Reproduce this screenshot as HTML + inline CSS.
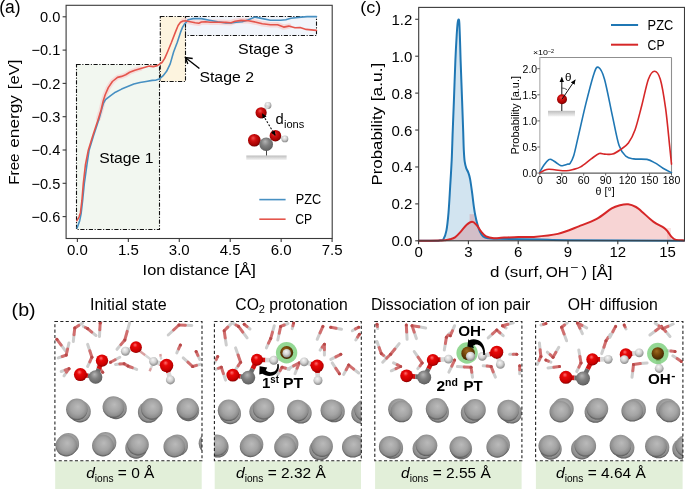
<!DOCTYPE html>
<html><head><meta charset="utf-8"><style>html,body{margin:0;padding:0;background:#fff;}svg{display:block;will-change:transform;}text{font-family:"Liberation Sans", sans-serif;}</style></head><body>
<svg width="685" height="489" viewBox="0 0 685 489">
<rect width="685" height="489" fill="#fff"/>
<defs>
<radialGradient id="gO" cx="0.45" cy="0.4" r="0.65" fx="0.42" fy="0.3">
 <stop offset="0" stop-color="#ff7070"/><stop offset="0.3" stop-color="#e80808"/><stop offset="0.75" stop-color="#c80000"/><stop offset="1" stop-color="#6e0000"/>
</radialGradient>
<radialGradient id="gO2" cx="0.45" cy="0.42" r="0.62" fx="0.4" fy="0.32">
 <stop offset="0" stop-color="#f05050"/><stop offset="0.35" stop-color="#d01010"/><stop offset="0.8" stop-color="#a00000"/><stop offset="1" stop-color="#500000"/>
</radialGradient>
<radialGradient id="gC" cx="0.45" cy="0.4" r="0.65" fx="0.42" fy="0.3">
 <stop offset="0" stop-color="#b4b4b4"/><stop offset="0.45" stop-color="#808080"/><stop offset="0.85" stop-color="#666"/><stop offset="1" stop-color="#3c3c3c"/>
</radialGradient>
<radialGradient id="gH" cx="0.45" cy="0.4" r="0.65" fx="0.42" fy="0.3">
 <stop offset="0" stop-color="#f6f6f6"/><stop offset="0.5" stop-color="#d2d2d2"/><stop offset="1" stop-color="#7e7e7e"/>
</radialGradient>
<radialGradient id="gPt" cx="0.5" cy="0.45" r="0.56" fx="0.55" fy="0.38">
 <stop offset="0" stop-color="#bababa"/><stop offset="0.55" stop-color="#a4a4a4"/><stop offset="0.84" stop-color="#8c8c8c"/><stop offset="1" stop-color="#4e4e4e"/>
</radialGradient>
<radialGradient id="gBr" cx="0.45" cy="0.4" r="0.65" fx="0.4" fy="0.3">
 <stop offset="0" stop-color="#a06a20"/><stop offset="0.45" stop-color="#74460a"/><stop offset="1" stop-color="#3a2200"/>
</radialGradient>
<linearGradient id="gSurf" x1="0" y1="0" x2="0" y2="1">
 <stop offset="0" stop-color="#bdbdbd"/><stop offset="1" stop-color="#f4f4f4"/>
</linearGradient>
<marker id="ah" viewBox="0 0 10 10" refX="9" refY="5" markerWidth="6" markerHeight="6" orient="auto-start-reverse" markerUnits="userSpaceOnUse">
 <path d="M0,0 L10,5 L0,10 z" fill="#000"/>
</marker>
<marker id="ah2" viewBox="0 0 10 10" refX="9" refY="5" markerWidth="5" markerHeight="5" orient="auto-start-reverse" markerUnits="userSpaceOnUse">
 <path d="M0,0.5 L10,5 L0,9.5 z" fill="#000"/>
</marker>
</defs>
<rect x="76.5" y="64.5" width="83" height="165" fill="#f2f7f0" stroke="#111" stroke-width="1.1" stroke-dasharray="4.2,1.6,1.1,1.6"/>
<rect x="160.3" y="16.5" width="25.2" height="65" fill="#fdf4df" stroke="#111" stroke-width="1.1" stroke-dasharray="4.2,1.6,1.1,1.6"/>
<rect x="185.5" y="16.5" width="131" height="19" fill="#f1f5fb" stroke="#111" stroke-width="1.1" stroke-dasharray="4.2,1.6,1.1,1.6"/>
<polyline points="98.40,118.70 101.10,110.00 103.20,100.90 105.20,94.70 108.30,87.60 112.40,81.50 117.50,77.40 121.60,76.40 125.70,74.80 129.70,72.30 134.90,70.20 140.00,68.70" fill="none" stroke="#f6d2d2" stroke-width="5.0" stroke-linejoin="round" stroke-linecap="round" opacity="0.7"/>
<polyline points="183.00,21.00 185.40,20.80 190.10,21.70 195.20,22.70 198.80,23.20 201.40,22.00 205.40,21.70 210.50,22.20 218.70,22.20 225.90,22.40 231.00,22.70 235.10,21.20 241.20,20.40 248.40,20.70 256.10,22.20 262.30,23.80 270.40,24.80 277.60,24.80 283.70,27.10 288.80,26.10" fill="none" stroke="#f6d2d2" stroke-width="5.5" stroke-linejoin="round" stroke-linecap="round" opacity="0.8"/>
<polyline points="77.10,227.90 79.70,220.70 81.10,213.60 82.60,200.70 84.30,183.60 86.90,165.00 89.10,150.20 93.40,135.90 99.10,118.70 102.00,108.00 103.50,103.00 105.50,99.60 110.30,95.80 115.40,92.20 121.60,89.10 127.70,86.60 133.80,84.00 140.00,82.50 146.10,81.50 152.20,80.40 155.50,80.20 159.20,79.10 162.90,75.90 166.60,71.30 170.20,63.90 173.60,52.00 177.30,42.30 180.50,32.40 182.60,27.10 184.60,23.90 186.30,22.20 188.10,19.70 193.20,18.60 201.40,18.60 209.50,20.20 217.70,21.70 225.90,23.00 231.00,23.00 236.10,22.20 242.20,21.70 248.40,19.70 255.10,17.10 260.20,18.10 270.40,20.20 280.70,20.20 285.80,19.70 290.90,18.30 301.10,17.10 307.20,16.60 316.40,16.60" fill="none" stroke="#4790c2" stroke-width="1.6" stroke-linejoin="round" stroke-linecap="round"/>
<polyline points="76.90,220.70 79.00,217.10 80.40,212.90 81.90,200.70 83.30,183.60 85.40,165.00 88.30,150.20 92.70,135.90 98.40,118.70 101.10,110.00 103.20,100.90 105.20,94.70 108.30,87.60 112.40,81.50 117.50,77.40 121.60,76.40 125.70,74.80 129.70,72.30 134.90,70.20 140.00,68.70 145.10,67.20 149.20,66.10 153.30,66.60 157.30,65.60 159.20,64.40 162.00,62.50 164.70,58.40 167.50,52.00 171.50,42.30 175.60,31.60 178.10,25.50 180.50,22.20 183.00,21.00 185.40,20.80 190.10,21.70 195.20,22.70 198.80,23.20 201.40,22.00 205.40,21.70 210.50,22.20 218.70,22.20 225.90,22.40 231.00,22.70 235.10,21.20 241.20,20.40 248.40,20.70 256.10,22.20 262.30,23.80 270.40,24.80 277.60,24.80 283.70,27.10 288.80,26.10 295.00,27.80 300.10,27.50 306.20,29.40 311.30,29.90 316.40,30.40" fill="none" stroke="#e4554c" stroke-width="1.6" stroke-linejoin="round" stroke-linecap="round"/>
<rect x="66.1" y="5.3" width="266.10" height="233.20" fill="none" stroke="#3a3a3a" stroke-width="1.1"/>
<line x1="62.60" y1="16.80" x2="66.10" y2="16.80" stroke="#3a3a3a" stroke-width="1.1"/>
<text x="60.30" y="22.10" font-size="14.6" text-anchor="end">0.0</text>
<line x1="62.60" y1="50.10" x2="66.10" y2="50.10" stroke="#3a3a3a" stroke-width="1.1"/>
<text x="60.30" y="55.40" font-size="14.6" text-anchor="end">−0.1</text>
<line x1="62.60" y1="83.40" x2="66.10" y2="83.40" stroke="#3a3a3a" stroke-width="1.1"/>
<text x="60.30" y="88.70" font-size="14.6" text-anchor="end">−0.2</text>
<line x1="62.60" y1="116.70" x2="66.10" y2="116.70" stroke="#3a3a3a" stroke-width="1.1"/>
<text x="60.30" y="122.00" font-size="14.6" text-anchor="end">−0.3</text>
<line x1="62.60" y1="150.00" x2="66.10" y2="150.00" stroke="#3a3a3a" stroke-width="1.1"/>
<text x="60.30" y="155.30" font-size="14.6" text-anchor="end">−0.4</text>
<line x1="62.60" y1="183.30" x2="66.10" y2="183.30" stroke="#3a3a3a" stroke-width="1.1"/>
<text x="60.30" y="188.60" font-size="14.6" text-anchor="end">−0.5</text>
<line x1="62.60" y1="216.60" x2="66.10" y2="216.60" stroke="#3a3a3a" stroke-width="1.1"/>
<text x="60.30" y="221.90" font-size="14.6" text-anchor="end">−0.6</text>
<line x1="77.40" y1="238.50" x2="77.40" y2="242.00" stroke="#3a3a3a" stroke-width="1.1"/>
<text x="77.40" y="255.40" font-size="15" text-anchor="middle">0.0</text>
<line x1="128.34" y1="238.50" x2="128.34" y2="242.00" stroke="#3a3a3a" stroke-width="1.1"/>
<text x="128.34" y="255.40" font-size="15" text-anchor="middle">1.5</text>
<line x1="179.28" y1="238.50" x2="179.28" y2="242.00" stroke="#3a3a3a" stroke-width="1.1"/>
<text x="179.28" y="255.40" font-size="15" text-anchor="middle">3.0</text>
<line x1="230.22" y1="238.50" x2="230.22" y2="242.00" stroke="#3a3a3a" stroke-width="1.1"/>
<text x="230.22" y="255.40" font-size="15" text-anchor="middle">4.5</text>
<line x1="281.16" y1="238.50" x2="281.16" y2="242.00" stroke="#3a3a3a" stroke-width="1.1"/>
<text x="281.16" y="255.40" font-size="15" text-anchor="middle">6.0</text>
<line x1="332.10" y1="238.50" x2="332.10" y2="242.00" stroke="#3a3a3a" stroke-width="1.1"/>
<text x="332.10" y="255.40" font-size="15" text-anchor="middle">7.5</text>
<g transform="translate(18.5,183.6) rotate(-90)">
<text x="-1.20" y="0.00" font-size="15" textLength="31.40" lengthAdjust="spacingAndGlyphs">Free</text>
<text x="35.80" y="0.00" font-size="15" textLength="52.80" lengthAdjust="spacingAndGlyphs">energy</text>
<text x="94.40" y="0.00" font-size="15" textLength="29.60" lengthAdjust="spacingAndGlyphs">[eV]</text>
</g>
<text x="142.60" y="274.80" font-size="15" textLength="22.80" lengthAdjust="spacingAndGlyphs">Ion</text>
<text x="169.50" y="274.80" font-size="15" textLength="60.00" lengthAdjust="spacingAndGlyphs">distance</text>
<text x="234.20" y="274.80" font-size="15" textLength="21.80" lengthAdjust="spacingAndGlyphs">[Å]</text>
<text x="-0.80" y="12.80" font-size="18" textLength="21.40" lengthAdjust="spacingAndGlyphs">(a)</text>
<text x="99.20" y="163.30" font-size="15" textLength="54.20" lengthAdjust="spacingAndGlyphs">Stage 1</text>
<text x="199.40" y="82.30" font-size="15" textLength="54.60" lengthAdjust="spacingAndGlyphs">Stage 2</text>
<text x="238.10" y="53.50" font-size="15" textLength="55.20" lengthAdjust="spacingAndGlyphs">Stage 3</text>
<line x1="199.40" y1="68.50" x2="185.60" y2="57.80" stroke="#000" stroke-width="1.4"/>
<polyline points="192.7,58.5 185.4,57.6 187.8,64.0" fill="none" stroke="#000" stroke-width="1.4" stroke-linejoin="miter"/>
<line x1="259.30" y1="199.60" x2="285.60" y2="199.60" stroke="#4790c2" stroke-width="1.6"/>
<line x1="259.30" y1="219.20" x2="285.60" y2="219.20" stroke="#e4554c" stroke-width="1.6"/>
<text x="295.70" y="204.20" font-size="14" textLength="25.40" lengthAdjust="spacingAndGlyphs">PZC</text>
<text x="295.30" y="223.90" font-size="14" textLength="16.90" lengthAdjust="spacingAndGlyphs">CP</text>
<rect x="246.3" y="155.5" width="40.3" height="4.5" fill="url(#gSurf)"/>
<line x1="266.50" y1="150.00" x2="266.50" y2="155.50" stroke="#444" stroke-width="1"/>
<circle cx="254.3" cy="140.2" r="6.3" fill="url(#gO2)"/>
<line x1="275.40" y1="135.70" x2="284.90" y2="138.90" stroke="#d8d8d8" stroke-width="3"/>
<circle cx="284.9" cy="138.9" r="3.4" fill="url(#gH)"/>
<circle cx="266.2" cy="144.2" r="6.8" fill="url(#gC)"/>
<circle cx="275.4" cy="135.7" r="5.8" fill="url(#gO2)"/>
<circle cx="268" cy="105.4" r="3.4" fill="url(#gH)"/>
<line x1="261.10" y1="112.80" x2="268.00" y2="106.20" stroke="#d8d8d8" stroke-width="3"/>
<circle cx="261.1" cy="112.8" r="5.6" fill="url(#gO2)"/>
<line x1="275.20" y1="135.40" x2="262.30" y2="113.80" stroke="#111" stroke-width="1.1" stroke-dasharray="2,1.6" marker-end="url(#ah2)" marker-start="url(#ah2)"/>
<text x="275.60" y="123.60" font-size="14.5" textLength="8.20" lengthAdjust="spacingAndGlyphs">d</text>
<text x="284.00" y="127.80" font-size="11" textLength="20.30" lengthAdjust="spacingAndGlyphs">ions</text>
<path d="M418.70,240.80 C421.58,240.78 432.45,240.78 436.00,240.70 C439.55,240.62 438.77,240.53 440.00,240.30 C441.23,240.07 442.33,240.92 443.40,239.30 C444.47,237.68 445.55,235.02 446.40,230.60 C447.25,226.18 447.87,220.23 448.50,212.80 C449.13,205.37 449.67,194.80 450.20,186.00 C450.73,177.20 451.28,169.07 451.70,160.00 C452.12,150.93 452.33,141.45 452.70,131.60 C453.07,121.75 453.45,112.83 453.90,100.90 C454.35,88.97 454.93,70.98 455.40,60.00 C455.87,49.02 456.32,41.25 456.70,35.00 C457.08,28.75 457.40,25.08 457.70,22.50 C458.00,19.92 458.23,19.50 458.50,19.50 C458.77,19.50 459.05,19.08 459.30,22.50 C459.55,25.92 459.78,33.75 460.00,40.00 C460.22,46.25 460.25,49.85 460.60,60.00 C460.95,70.15 461.67,88.97 462.10,100.90 C462.53,112.83 462.92,123.42 463.20,131.60 C463.48,139.78 463.55,144.98 463.80,150.00 C464.05,155.02 464.28,158.63 464.70,161.70 C465.12,164.77 465.72,166.63 466.30,168.40 C466.88,170.17 467.57,170.52 468.20,172.30 C468.83,174.08 469.45,175.70 470.10,179.10 C470.75,182.50 471.48,188.17 472.10,192.70 C472.72,197.23 473.25,202.42 473.80,206.30 C474.35,210.18 474.82,213.08 475.40,216.00 C475.98,218.92 476.55,221.20 477.30,223.80 C478.05,226.40 478.92,229.50 479.90,231.60 C480.88,233.70 481.85,235.28 483.20,236.40 C484.55,237.52 485.53,237.90 488.00,238.30 C490.47,238.70 489.33,238.58 498.00,238.80 C506.67,239.02 528.00,239.35 540.00,239.60 C552.00,239.85 546.00,240.10 570.00,240.30 C594.00,240.50 665.00,240.72 684.00,240.80 L684,240.8 L418.7,240.8 Z" fill="#1f77b4" fill-opacity="0.2"/>
<path d="M418.70,240.80 C422.25,240.77 435.62,240.70 440.00,240.60 C444.38,240.50 443.33,240.42 445.00,240.20 C446.67,239.98 448.33,239.77 450.00,239.30 C451.67,238.83 453.20,238.68 455.00,237.40 C456.80,236.12 458.85,233.70 460.80,231.60 C462.75,229.50 464.82,226.43 466.70,224.80 C468.58,223.17 470.48,221.80 472.10,221.80 C473.72,221.80 474.88,223.17 476.40,224.80 C477.92,226.43 479.58,229.67 481.20,231.60 C482.82,233.53 484.00,235.28 486.10,236.40 C488.20,237.52 491.33,238.07 493.80,238.30 C496.27,238.53 496.80,238.03 500.90,237.80 C505.00,237.57 512.90,237.05 518.40,236.90 C523.90,236.75 527.33,237.40 533.90,236.90 C540.47,236.40 550.32,235.65 557.80,233.90 C565.28,232.15 572.32,228.90 578.80,226.40 C585.28,223.90 591.22,221.90 596.70,218.90 C602.18,215.90 607.82,210.68 611.70,208.40 C615.58,206.12 617.25,205.88 620.00,205.20 C622.75,204.52 625.53,204.00 628.20,204.30 C630.87,204.60 633.77,205.82 636.00,207.00 C638.23,208.18 638.67,208.92 641.60,211.40 C644.53,213.88 649.87,219.15 653.60,221.90 C657.33,224.65 661.60,226.22 664.00,227.90 C666.40,229.58 666.73,230.50 668.00,232.00 C669.27,233.50 670.27,235.58 671.60,236.90 C672.93,238.22 673.93,239.32 676.00,239.90 C678.07,240.48 682.67,240.32 684.00,240.40 L684,240.8 L418.7,240.8 Z" fill="#d62728" fill-opacity="0.2"/>
<rect x="469.6" y="214.2" width="4.8" height="7.8" fill="#d62728" fill-opacity="0.2"/>
<rect x="474.4" y="218.3" width="1.8" height="5" fill="#d62728" fill-opacity="0.15"/>
<rect x="667" y="228" width="4" height="12.5" fill="#d62728" fill-opacity="0.12"/>
<path d="M418.70,240.80 C421.58,240.78 432.45,240.78 436.00,240.70 C439.55,240.62 438.77,240.53 440.00,240.30 C441.23,240.07 442.33,240.92 443.40,239.30 C444.47,237.68 445.55,235.02 446.40,230.60 C447.25,226.18 447.87,220.23 448.50,212.80 C449.13,205.37 449.67,194.80 450.20,186.00 C450.73,177.20 451.28,169.07 451.70,160.00 C452.12,150.93 452.33,141.45 452.70,131.60 C453.07,121.75 453.45,112.83 453.90,100.90 C454.35,88.97 454.93,70.98 455.40,60.00 C455.87,49.02 456.32,41.25 456.70,35.00 C457.08,28.75 457.40,25.08 457.70,22.50 C458.00,19.92 458.23,19.50 458.50,19.50 C458.77,19.50 459.05,19.08 459.30,22.50 C459.55,25.92 459.78,33.75 460.00,40.00 C460.22,46.25 460.25,49.85 460.60,60.00 C460.95,70.15 461.67,88.97 462.10,100.90 C462.53,112.83 462.92,123.42 463.20,131.60 C463.48,139.78 463.55,144.98 463.80,150.00 C464.05,155.02 464.28,158.63 464.70,161.70 C465.12,164.77 465.72,166.63 466.30,168.40 C466.88,170.17 467.57,170.52 468.20,172.30 C468.83,174.08 469.45,175.70 470.10,179.10 C470.75,182.50 471.48,188.17 472.10,192.70 C472.72,197.23 473.25,202.42 473.80,206.30 C474.35,210.18 474.82,213.08 475.40,216.00 C475.98,218.92 476.55,221.20 477.30,223.80 C478.05,226.40 478.92,229.50 479.90,231.60 C480.88,233.70 481.85,235.28 483.20,236.40 C484.55,237.52 485.53,237.90 488.00,238.30 C490.47,238.70 489.33,238.58 498.00,238.80 C506.67,239.02 528.00,239.35 540.00,239.60 C552.00,239.85 546.00,240.10 570.00,240.30 C594.00,240.50 665.00,240.72 684.00,240.80" fill="none" stroke="#1f77b4" stroke-width="2.0" stroke-linejoin="round" stroke-linecap="round"/>
<path d="M418.70,240.80 C422.25,240.77 435.62,240.70 440.00,240.60 C444.38,240.50 443.33,240.42 445.00,240.20 C446.67,239.98 448.33,239.77 450.00,239.30 C451.67,238.83 453.20,238.68 455.00,237.40 C456.80,236.12 458.85,233.70 460.80,231.60 C462.75,229.50 464.82,226.43 466.70,224.80 C468.58,223.17 470.48,221.80 472.10,221.80 C473.72,221.80 474.88,223.17 476.40,224.80 C477.92,226.43 479.58,229.67 481.20,231.60 C482.82,233.53 484.00,235.28 486.10,236.40 C488.20,237.52 491.33,238.07 493.80,238.30 C496.27,238.53 496.80,238.03 500.90,237.80 C505.00,237.57 512.90,237.05 518.40,236.90 C523.90,236.75 527.33,237.40 533.90,236.90 C540.47,236.40 550.32,235.65 557.80,233.90 C565.28,232.15 572.32,228.90 578.80,226.40 C585.28,223.90 591.22,221.90 596.70,218.90 C602.18,215.90 607.82,210.68 611.70,208.40 C615.58,206.12 617.25,205.88 620.00,205.20 C622.75,204.52 625.53,204.00 628.20,204.30 C630.87,204.60 633.77,205.82 636.00,207.00 C638.23,208.18 638.67,208.92 641.60,211.40 C644.53,213.88 649.87,219.15 653.60,221.90 C657.33,224.65 661.60,226.22 664.00,227.90 C666.40,229.58 666.73,230.50 668.00,232.00 C669.27,233.50 670.27,235.58 671.60,236.90 C672.93,238.22 673.93,239.32 676.00,239.90 C678.07,240.48 682.67,240.32 684.00,240.40" fill="none" stroke="#d62728" stroke-width="2.0" stroke-linejoin="round" stroke-linecap="round"/>
<rect x="418.7" y="7.4" width="265.80" height="233.40" fill="none" stroke="#3a3a3a" stroke-width="1.1"/>
<line x1="415.20" y1="240.80" x2="418.70" y2="240.80" stroke="#3a3a3a" stroke-width="1.1"/>
<text x="412.40" y="246.30" font-size="15" text-anchor="end">0.0</text>
<line x1="415.20" y1="203.88" x2="418.70" y2="203.88" stroke="#3a3a3a" stroke-width="1.1"/>
<text x="412.40" y="209.38" font-size="15" text-anchor="end">0.2</text>
<line x1="415.20" y1="166.96" x2="418.70" y2="166.96" stroke="#3a3a3a" stroke-width="1.1"/>
<text x="412.40" y="172.46" font-size="15" text-anchor="end">0.4</text>
<line x1="415.20" y1="130.04" x2="418.70" y2="130.04" stroke="#3a3a3a" stroke-width="1.1"/>
<text x="412.40" y="135.54" font-size="15" text-anchor="end">0.6</text>
<line x1="415.20" y1="93.12" x2="418.70" y2="93.12" stroke="#3a3a3a" stroke-width="1.1"/>
<text x="412.40" y="98.62" font-size="15" text-anchor="end">0.8</text>
<line x1="415.20" y1="56.20" x2="418.70" y2="56.20" stroke="#3a3a3a" stroke-width="1.1"/>
<text x="412.40" y="61.70" font-size="15" text-anchor="end">1.0</text>
<line x1="415.20" y1="19.28" x2="418.70" y2="19.28" stroke="#3a3a3a" stroke-width="1.1"/>
<text x="412.40" y="24.78" font-size="15" text-anchor="end">1.2</text>
<line x1="418.60" y1="240.80" x2="418.60" y2="244.30" stroke="#3a3a3a" stroke-width="1.1"/>
<text x="418.60" y="257.30" font-size="15" text-anchor="middle">0</text>
<line x1="468.40" y1="240.80" x2="468.40" y2="244.30" stroke="#3a3a3a" stroke-width="1.1"/>
<text x="468.40" y="257.30" font-size="15" text-anchor="middle">3</text>
<line x1="518.20" y1="240.80" x2="518.20" y2="244.30" stroke="#3a3a3a" stroke-width="1.1"/>
<text x="518.20" y="257.30" font-size="15" text-anchor="middle">6</text>
<line x1="568.00" y1="240.80" x2="568.00" y2="244.30" stroke="#3a3a3a" stroke-width="1.1"/>
<text x="568.00" y="257.30" font-size="15" text-anchor="middle">9</text>
<line x1="617.80" y1="240.80" x2="617.80" y2="244.30" stroke="#3a3a3a" stroke-width="1.1"/>
<text x="617.80" y="257.30" font-size="15" text-anchor="middle">12</text>
<line x1="667.60" y1="240.80" x2="667.60" y2="244.30" stroke="#3a3a3a" stroke-width="1.1"/>
<text x="667.60" y="257.30" font-size="15" text-anchor="middle">15</text>
<g transform="translate(381.8,184.3) rotate(-90)">
<text x="-1.20" y="0.00" font-size="15" textLength="78.60" lengthAdjust="spacingAndGlyphs">Probability</text>
<text x="83.00" y="0.00" font-size="15" textLength="38.60" lengthAdjust="spacingAndGlyphs">[a.u.]</text>
</g>
<text x="490.00" y="277.00" font-size="15" textLength="52.90" lengthAdjust="spacingAndGlyphs">d (surf,</text>
<text x="545.80" y="277.00" font-size="15" textLength="23.20" lengthAdjust="spacingAndGlyphs">OH</text>
<text x="570.30" y="271.30" font-size="11" textLength="8.20" lengthAdjust="spacingAndGlyphs">−</text>
<text x="581.40" y="277.20" font-size="15" textLength="31.20" lengthAdjust="spacingAndGlyphs">) [Å]</text>
<text x="360.20" y="12.90" font-size="17" textLength="21.00" lengthAdjust="spacingAndGlyphs">(c)</text>
<line x1="611.00" y1="25.00" x2="638.10" y2="25.00" stroke="#1f77b4" stroke-width="2"/>
<line x1="611.00" y1="44.70" x2="638.10" y2="44.70" stroke="#d62728" stroke-width="2"/>
<text x="647.60" y="29.70" font-size="14" textLength="25.60" lengthAdjust="spacingAndGlyphs">PZC</text>
<text x="647.60" y="49.70" font-size="14" textLength="17.00" lengthAdjust="spacingAndGlyphs">CP</text>
<rect x="539.8" y="57.5" width="131.70" height="115.60" fill="#fff"/>
<line x1="539.80" y1="57.50" x2="671.50" y2="57.50" stroke="#8f8f8f" stroke-width="1.1"/>
<line x1="671.50" y1="57.50" x2="671.50" y2="173.10" stroke="#8f8f8f" stroke-width="1.1"/>
<line x1="539.80" y1="57.00" x2="539.80" y2="173.10" stroke="#bdbdbd" stroke-width="1.4"/>
<line x1="539.80" y1="173.10" x2="672.00" y2="173.10" stroke="#5e5e5e" stroke-width="1.1"/>
<path d="M539.80,172.10 C540.50,170.92 542.50,167.07 544.00,165.00 C545.50,162.93 547.52,160.58 548.80,159.70 C550.08,158.82 550.50,159.23 551.70,159.70 C552.90,160.17 554.53,161.53 556.00,162.50 C557.47,163.47 559.17,165.03 560.50,165.50 C561.83,165.97 562.78,165.53 564.00,165.30 C565.22,165.07 566.80,164.40 567.80,164.10 C568.80,163.80 569.03,164.83 570.00,163.50 C570.97,162.17 572.27,160.42 573.60,156.10 C574.93,151.78 575.93,146.43 578.00,137.60 C580.07,128.77 583.35,113.72 586.00,103.10 C588.65,92.48 591.83,79.87 593.90,73.90 C595.97,67.93 596.63,66.42 598.40,67.30 C600.17,68.18 602.15,71.02 604.50,79.20 C606.85,87.38 610.07,105.33 612.50,116.40 C614.93,127.47 616.88,138.97 619.10,145.60 C621.32,152.23 623.37,153.98 625.80,156.20 C628.23,158.42 630.17,158.37 633.70,158.90 C637.23,159.43 643.45,158.73 647.00,159.40 C650.55,160.07 652.33,161.43 655.00,162.90 C657.67,164.37 660.25,166.57 663.00,168.20 C665.75,169.83 670.08,171.95 671.50,172.70" fill="none" stroke="#1f77b4" stroke-width="1.6" stroke-linejoin="round" stroke-linecap="round"/>
<path d="M539.80,172.80 C540.50,172.42 542.50,171.10 544.00,170.50 C545.50,169.90 546.80,169.28 548.80,169.20 C550.80,169.12 553.08,169.75 556.00,170.00 C558.92,170.25 563.47,170.78 566.30,170.70 C569.13,170.62 570.62,170.13 573.00,169.50 C575.38,168.87 577.57,168.67 580.60,166.90 C583.63,165.13 588.10,161.12 591.20,158.90 C594.30,156.68 596.98,154.40 599.20,153.60 C601.42,152.80 602.28,154.02 604.50,154.10 C606.72,154.18 609.83,154.85 612.50,154.10 C615.17,153.35 617.85,151.45 620.50,149.60 C623.15,147.75 625.97,146.32 628.40,143.00 C630.83,139.68 632.88,135.90 635.10,129.70 C637.32,123.50 639.48,114.22 641.70,105.80 C643.92,97.38 646.27,84.97 648.40,79.20 C650.53,73.43 652.52,71.20 654.50,71.20 C656.48,71.20 658.45,73.00 660.30,79.20 C662.15,85.40 664.05,97.33 665.60,108.40 C667.15,119.47 668.62,136.30 669.60,145.60 C670.58,154.90 671.18,161.10 671.50,164.20" fill="none" stroke="#d62728" stroke-width="1.6" stroke-linejoin="round" stroke-linecap="round"/>
<line x1="537.30" y1="173.10" x2="539.80" y2="173.10" stroke="#555" stroke-width="0.9"/>
<text x="537.20" y="176.90" font-size="10.5" text-anchor="end">0.0</text>
<line x1="537.30" y1="147.00" x2="539.80" y2="147.00" stroke="#555" stroke-width="0.9"/>
<text x="537.20" y="150.80" font-size="10.5" text-anchor="end">0.5</text>
<line x1="537.30" y1="120.90" x2="539.80" y2="120.90" stroke="#555" stroke-width="0.9"/>
<text x="537.20" y="124.70" font-size="10.5" text-anchor="end">1.0</text>
<line x1="537.30" y1="94.80" x2="539.80" y2="94.80" stroke="#555" stroke-width="0.9"/>
<text x="537.20" y="98.60" font-size="10.5" text-anchor="end">1.5</text>
<line x1="537.30" y1="68.70" x2="539.80" y2="68.70" stroke="#555" stroke-width="0.9"/>
<text x="537.20" y="72.50" font-size="10.5" text-anchor="end">2.0</text>
<line x1="539.80" y1="173.10" x2="539.80" y2="175.60" stroke="#555" stroke-width="0.9"/>
<text x="539.80" y="184.00" font-size="10.5" text-anchor="middle">0</text>
<line x1="561.75" y1="173.10" x2="561.75" y2="175.60" stroke="#555" stroke-width="0.9"/>
<text x="561.75" y="184.00" font-size="10.5" text-anchor="middle">30</text>
<line x1="583.70" y1="173.10" x2="583.70" y2="175.60" stroke="#555" stroke-width="0.9"/>
<text x="583.70" y="184.00" font-size="10.5" text-anchor="middle">60</text>
<line x1="605.65" y1="173.10" x2="605.65" y2="175.60" stroke="#555" stroke-width="0.9"/>
<text x="605.65" y="184.00" font-size="10.5" text-anchor="middle">90</text>
<line x1="627.60" y1="173.10" x2="627.60" y2="175.60" stroke="#555" stroke-width="0.9"/>
<text x="627.60" y="184.00" font-size="10.5" text-anchor="middle">120</text>
<line x1="649.55" y1="173.10" x2="649.55" y2="175.60" stroke="#555" stroke-width="0.9"/>
<text x="649.55" y="184.00" font-size="10.5" text-anchor="middle">150</text>
<line x1="671.50" y1="173.10" x2="671.50" y2="175.60" stroke="#555" stroke-width="0.9"/>
<text x="671.50" y="184.00" font-size="10.5" text-anchor="middle">180</text>
<text x="519.20" y="115.30" font-size="10.5" text-anchor="middle" textLength="78.60" lengthAdjust="spacingAndGlyphs" transform="rotate(-90 519.20 115.30)">Probability [a.u.]</text>
<text x="595.60" y="195.40" font-size="10.5" textLength="19.10" lengthAdjust="spacingAndGlyphs">θ [°]</text>
<text x="532.90" y="55.30" font-size="8" textLength="15.00" lengthAdjust="spacingAndGlyphs">×10</text>
<text x="547.90" y="52.60" font-size="6" textLength="6.20" lengthAdjust="spacingAndGlyphs">−2</text>
<rect x="548" y="110.8" width="27" height="5.7" fill="url(#gSurf)"/>
<line x1="561.80" y1="111.00" x2="561.80" y2="77.50" stroke="#111" stroke-width="1.0" marker-end="url(#ah2)"/>
<circle cx="562" cy="99.2" r="5" fill="url(#gO2)"/>
<line x1="562.00" y1="99.20" x2="575.20" y2="79.80" stroke="#111" stroke-width="1.0" marker-end="url(#ah2)"/>
<path d="M561.8,88 A9,9 0 0 1 567,89.7" fill="none" stroke="#333" stroke-width="0.8"/>
<text x="565.00" y="80.80" font-size="11" textLength="6.50" lengthAdjust="spacingAndGlyphs">θ</text>
<defs><filter id="soft" x="-5%" y="-5%" width="110%" height="110%"><feGaussianBlur stdDeviation="0.35"/></filter>
<clipPath id="cb0"><rect x="54.9" y="321.5" width="147.1" height="139.3"/></clipPath>
<clipPath id="cb1"><rect x="214.4" y="321.5" width="146.9" height="139.3"/></clipPath>
<clipPath id="cb2"><rect x="374.8" y="321.5" width="147.1" height="139.3"/></clipPath>
<clipPath id="cb3"><rect x="535.6" y="321.5" width="147.3" height="139.3"/></clipPath>
</defs>
<rect x="55.2" y="461.2" width="146.5" height="28.2" fill="#e2efd9"/>
<g clip-path="url(#cb0)">
<g filter="url(#soft)">
<line x1="78.7" y1="325.4" x2="82.6" y2="322.9" stroke="#cdcdcd" stroke-width="3.0" stroke-linecap="round"/>
<line x1="74.0" y1="334.7" x2="73.3" y2="341.5" stroke="#cdcdcd" stroke-width="3.0" stroke-linecap="round"/>
<line x1="74.8" y1="327.9" x2="78.7" y2="325.4" stroke="#d06e6e" stroke-width="3.0" stroke-linecap="round"/>
<line x1="74.8" y1="327.9" x2="74.0" y2="334.7" stroke="#d06e6e" stroke-width="3.0" stroke-linecap="round"/>
<circle cx="74.8" cy="327.9" r="1.5" fill="#b84848"/>
<line x1="85.4" y1="327.5" x2="83.3" y2="326.4" stroke="#cdcdcd" stroke-width="3.0" stroke-linecap="round"/>
<line x1="91.8" y1="332.1" x2="96.0" y2="335.5" stroke="#cdcdcd" stroke-width="3.0" stroke-linecap="round"/>
<line x1="87.6" y1="328.6" x2="85.4" y2="327.5" stroke="#d06e6e" stroke-width="3.0" stroke-linecap="round"/>
<line x1="87.6" y1="328.6" x2="91.8" y2="332.1" stroke="#d06e6e" stroke-width="3.0" stroke-linecap="round"/>
<circle cx="87.6" cy="328.6" r="1.5" fill="#b84848"/>
<line x1="99.8" y1="329.8" x2="99.5" y2="336.5" stroke="#cdcdcd" stroke-width="3.0" stroke-linecap="round"/>
<line x1="100.6" y1="322.4" x2="101.0" y2="321.8" stroke="#cdcdcd" stroke-width="3.0" stroke-linecap="round"/>
<line x1="100.2" y1="323.0" x2="99.8" y2="329.8" stroke="#d06e6e" stroke-width="3.0" stroke-linecap="round"/>
<line x1="100.2" y1="323.0" x2="100.6" y2="322.4" stroke="#d06e6e" stroke-width="3.0" stroke-linecap="round"/>
<circle cx="100.2" cy="323.0" r="1.5" fill="#b84848"/>
<line x1="61.2" y1="345.1" x2="65.5" y2="350.8" stroke="#cdcdcd" stroke-width="3.0" stroke-linecap="round"/>
<line x1="56.9" y1="339.3" x2="61.2" y2="345.1" stroke="#d06e6e" stroke-width="3.0" stroke-linecap="round"/>
<circle cx="56.9" cy="339.3" r="1.5" fill="#b84848"/>
<line x1="62.2" y1="356.5" x2="58.3" y2="357.9" stroke="#cdcdcd" stroke-width="3.0" stroke-linecap="round"/>
<line x1="67.6" y1="349.0" x2="69.0" y2="342.9" stroke="#cdcdcd" stroke-width="3.0" stroke-linecap="round"/>
<line x1="66.2" y1="355.1" x2="62.2" y2="356.5" stroke="#d06e6e" stroke-width="3.0" stroke-linecap="round"/>
<line x1="66.2" y1="355.1" x2="67.6" y2="349.0" stroke="#d06e6e" stroke-width="3.0" stroke-linecap="round"/>
<circle cx="66.2" cy="355.1" r="1.5" fill="#b84848"/>
<line x1="89.8" y1="350.8" x2="87.6" y2="344.3" stroke="#cdcdcd" stroke-width="3.0" stroke-linecap="round"/>
<line x1="89.8" y1="361.9" x2="87.6" y2="366.5" stroke="#cdcdcd" stroke-width="3.0" stroke-linecap="round"/>
<line x1="91.9" y1="357.2" x2="89.8" y2="350.8" stroke="#d06e6e" stroke-width="3.0" stroke-linecap="round"/>
<line x1="91.9" y1="357.2" x2="89.8" y2="361.9" stroke="#d06e6e" stroke-width="3.0" stroke-linecap="round"/>
<circle cx="91.9" cy="357.2" r="1.5" fill="#b84848"/>
<line x1="65.1" y1="370.1" x2="61.2" y2="371.5" stroke="#cdcdcd" stroke-width="3.0" stroke-linecap="round"/>
<line x1="66.5" y1="372.2" x2="64.0" y2="375.8" stroke="#cdcdcd" stroke-width="3.0" stroke-linecap="round"/>
<line x1="69.0" y1="368.7" x2="65.1" y2="370.1" stroke="#d06e6e" stroke-width="3.0" stroke-linecap="round"/>
<line x1="69.0" y1="368.7" x2="66.5" y2="372.2" stroke="#d06e6e" stroke-width="3.0" stroke-linecap="round"/>
<circle cx="69.0" cy="368.7" r="1.5" fill="#b84848"/>
<line x1="120.9" y1="344.6" x2="117.0" y2="349.3" stroke="#cdcdcd" stroke-width="3.0" stroke-linecap="round"/>
<line x1="127.2" y1="331.4" x2="129.6" y2="322.9" stroke="#cdcdcd" stroke-width="3.0" stroke-linecap="round"/>
<line x1="124.8" y1="340.0" x2="120.9" y2="344.6" stroke="#d06e6e" stroke-width="3.0" stroke-linecap="round"/>
<line x1="124.8" y1="340.0" x2="127.2" y2="331.4" stroke="#d06e6e" stroke-width="3.0" stroke-linecap="round"/>
<circle cx="124.8" cy="340.0" r="1.5" fill="#b84848"/>
<line x1="115.2" y1="359.7" x2="119.8" y2="357.2" stroke="#cdcdcd" stroke-width="3.0" stroke-linecap="round"/>
<line x1="110.5" y1="362.2" x2="115.2" y2="359.7" stroke="#d06e6e" stroke-width="3.0" stroke-linecap="round"/>
<circle cx="110.5" cy="362.2" r="1.5" fill="#b84848"/>
<line x1="119.8" y1="364.0" x2="115.5" y2="364.4" stroke="#cdcdcd" stroke-width="3.0" stroke-linecap="round"/>
<line x1="127.0" y1="365.4" x2="129.9" y2="367.2" stroke="#cdcdcd" stroke-width="3.0" stroke-linecap="round"/>
<line x1="124.1" y1="363.7" x2="119.8" y2="364.0" stroke="#d06e6e" stroke-width="3.0" stroke-linecap="round"/>
<line x1="124.1" y1="363.7" x2="127.0" y2="365.4" stroke="#d06e6e" stroke-width="3.0" stroke-linecap="round"/>
<circle cx="124.1" cy="363.7" r="1.5" fill="#b84848"/>
<line x1="100.3" y1="369.1" x2="98.0" y2="366.0" stroke="#cdcdcd" stroke-width="3.0" stroke-linecap="round"/>
<line x1="102.7" y1="372.2" x2="100.3" y2="369.1" stroke="#d06e6e" stroke-width="3.0" stroke-linecap="round"/>
<circle cx="102.7" cy="372.2" r="1.5" fill="#b84848"/>
<line x1="185.4" y1="325.2" x2="191.8" y2="325.4" stroke="#cdcdcd" stroke-width="3.0" stroke-linecap="round"/>
<line x1="173.6" y1="330.0" x2="168.2" y2="335.0" stroke="#cdcdcd" stroke-width="3.0" stroke-linecap="round"/>
<line x1="179.0" y1="325.0" x2="185.4" y2="325.2" stroke="#d06e6e" stroke-width="3.0" stroke-linecap="round"/>
<line x1="179.0" y1="325.0" x2="173.6" y2="330.0" stroke="#d06e6e" stroke-width="3.0" stroke-linecap="round"/>
<circle cx="179.0" cy="325.0" r="1.5" fill="#b84848"/>
<line x1="178.6" y1="348.9" x2="176.8" y2="352.9" stroke="#cdcdcd" stroke-width="3.0" stroke-linecap="round"/>
<line x1="180.4" y1="345.0" x2="178.6" y2="348.9" stroke="#d06e6e" stroke-width="3.0" stroke-linecap="round"/>
<circle cx="180.4" cy="345.0" r="1.5" fill="#b84848"/>
<line x1="187.9" y1="362.2" x2="183.2" y2="357.9" stroke="#cdcdcd" stroke-width="3.0" stroke-linecap="round"/>
<line x1="196.5" y1="365.4" x2="200.4" y2="364.4" stroke="#cdcdcd" stroke-width="3.0" stroke-linecap="round"/>
<line x1="192.6" y1="366.5" x2="187.9" y2="362.2" stroke="#d06e6e" stroke-width="3.0" stroke-linecap="round"/>
<line x1="192.6" y1="366.5" x2="196.5" y2="365.4" stroke="#d06e6e" stroke-width="3.0" stroke-linecap="round"/>
<circle cx="192.6" cy="366.5" r="1.5" fill="#b84848"/>
<line x1="197.9" y1="355.4" x2="199.7" y2="359.4" stroke="#cdcdcd" stroke-width="3.0" stroke-linecap="round"/>
<line x1="196.1" y1="351.5" x2="197.9" y2="355.4" stroke="#d06e6e" stroke-width="3.0" stroke-linecap="round"/>
<circle cx="196.1" cy="351.5" r="1.5" fill="#b84848"/>
<line x1="132.3" y1="367.7" x2="136.7" y2="369.4" stroke="#cdcdcd" stroke-width="3.0" stroke-linecap="round"/>
<line x1="128.0" y1="366.0" x2="132.3" y2="367.7" stroke="#d06e6e" stroke-width="3.0" stroke-linecap="round"/>
<circle cx="128.0" cy="366.0" r="1.5" fill="#b84848"/>
</g>
<circle cx="80.0" cy="411.6" r="10.8" fill="url(#gPt)"/><circle cx="76.9" cy="409.3" r="10.8" fill="url(#gPt)"/>
<circle cx="116.0" cy="408.4" r="10.8" fill="url(#gPt)"/><circle cx="113.4" cy="407.1" r="10.8" fill="url(#gPt)"/>
<circle cx="148.7" cy="412.0" r="10.8" fill="url(#gPt)"/><circle cx="151.8" cy="408.9" r="10.8" fill="url(#gPt)"/>
<circle cx="188.4" cy="410.4" r="10.8" fill="url(#gPt)"/><circle cx="187.4" cy="408.8" r="10.8" fill="url(#gPt)"/>
<circle cx="68.3" cy="443.7" r="10.8" fill="url(#gPt)"/><circle cx="66.3" cy="445.6" r="10.8" fill="url(#gPt)"/>
<circle cx="105.5" cy="442.7" r="10.8" fill="url(#gPt)"/><circle cx="102.9" cy="445.6" r="10.8" fill="url(#gPt)"/>
<circle cx="136.1" cy="447.9" r="10.8" fill="url(#gPt)"/><circle cx="138.0" cy="444.6" r="10.8" fill="url(#gPt)"/>
<circle cx="177.2" cy="445.4" r="10.8" fill="url(#gPt)"/><circle cx="174.3" cy="446.7" r="10.8" fill="url(#gPt)"/>
<circle cx="209.5" cy="443.2" r="10.8" fill="url(#gPt)"/><circle cx="212.1" cy="445.5" r="10.8" fill="url(#gPt)"/>
<line x1="137" y1="349" x2="145.3" y2="355.2" stroke="#d9a0a0" stroke-width="2.4"/><line x1="145.3" y1="355.2" x2="153.6" y2="361.5" stroke="#d6d6d6" stroke-width="2.4"/>
<line x1="149.6" y1="371.2" x2="151.0" y2="368.0" stroke="#d9a0a0" stroke-width="2.4"/><line x1="151.0" y1="368.0" x2="152.4" y2="364.8" stroke="#d6d6d6" stroke-width="2.4"/>
<line x1="160.3" y1="354.0" x2="160.8" y2="356.8" stroke="#d9a0a0" stroke-width="2.4"/><line x1="160.8" y1="356.8" x2="161.2" y2="359.5" stroke="#d6d6d6" stroke-width="2.4"/>
<line x1="80.4" y1="374.6" x2="88.0" y2="375.8" stroke="#d01010" stroke-width="4.6"/><line x1="88.0" y1="375.8" x2="95.6" y2="377.0" stroke="#6a6a6a" stroke-width="4.6"/>
<line x1="95.6" y1="377.0" x2="98.8" y2="368.8" stroke="#6a6a6a" stroke-width="4.6"/><line x1="98.8" y1="368.8" x2="102.0" y2="360.6" stroke="#d01010" stroke-width="4.6"/>
<line x1="125.4" y1="351.3" x2="130.7" y2="349.2" stroke="#d8d8d8" stroke-width="4.6"/><line x1="130.7" y1="349.2" x2="136.0" y2="347.2" stroke="#d01010" stroke-width="4.6"/>
<line x1="153.6" y1="361.5" x2="160.1" y2="363.5" stroke="#d8d8d8" stroke-width="4.6"/><line x1="160.1" y1="363.5" x2="166.6" y2="365.5" stroke="#d01010" stroke-width="4.6"/>
<line x1="166.6" y1="365.5" x2="168.5" y2="372.7" stroke="#d01010" stroke-width="4.6"/><line x1="168.5" y1="372.7" x2="170.4" y2="379.9" stroke="#d8d8d8" stroke-width="4.6"/>
<circle cx="80.4" cy="374.6" r="6.5" fill="url(#gO)"/>
<circle cx="95.6" cy="377.0" r="6.8" fill="url(#gC)"/>
<circle cx="102.0" cy="360.6" r="6.2" fill="url(#gO)"/>
<circle cx="125.4" cy="351.3" r="4.5" fill="url(#gH)"/>
<circle cx="136.0" cy="347.2" r="5.9" fill="url(#gO)"/>
<circle cx="153.6" cy="361.5" r="4.4" fill="url(#gH)"/>
<circle cx="170.4" cy="379.9" r="4.5" fill="url(#gH)"/>
<circle cx="166.6" cy="365.5" r="6.7" fill="url(#gO)"/>
</g>
<rect x="54.9" y="321.5" width="147.1" height="139.3" fill="none" stroke="#222" stroke-width="1.1" stroke-dasharray="3.1,2.3"/>
<rect x="214.7" y="461.2" width="146.3" height="28.2" fill="#e2efd9"/>
<g clip-path="url(#cb1)">
<g filter="url(#soft)">
<line x1="227.8" y1="327.1" x2="231.3" y2="323.6" stroke="#cdcdcd" stroke-width="3.0" stroke-linecap="round"/>
<line x1="225.2" y1="337.9" x2="226.3" y2="345.0" stroke="#cdcdcd" stroke-width="3.0" stroke-linecap="round"/>
<line x1="224.2" y1="330.7" x2="227.8" y2="327.1" stroke="#d06e6e" stroke-width="3.0" stroke-linecap="round"/>
<line x1="224.2" y1="330.7" x2="225.2" y2="337.9" stroke="#d06e6e" stroke-width="3.0" stroke-linecap="round"/>
<circle cx="224.2" cy="330.7" r="1.5" fill="#b84848"/>
<line x1="236.0" y1="325.0" x2="233.5" y2="323.6" stroke="#cdcdcd" stroke-width="3.0" stroke-linecap="round"/>
<line x1="242.8" y1="332.1" x2="247.1" y2="337.9" stroke="#cdcdcd" stroke-width="3.0" stroke-linecap="round"/>
<line x1="238.5" y1="326.4" x2="236.0" y2="325.0" stroke="#d06e6e" stroke-width="3.0" stroke-linecap="round"/>
<line x1="238.5" y1="326.4" x2="242.8" y2="332.1" stroke="#d06e6e" stroke-width="3.0" stroke-linecap="round"/>
<circle cx="238.5" cy="326.4" r="1.5" fill="#b84848"/>
<line x1="247.1" y1="326.6" x2="250.0" y2="329.0" stroke="#cdcdcd" stroke-width="3.0" stroke-linecap="round"/>
<line x1="244.2" y1="324.3" x2="247.1" y2="326.6" stroke="#d06e6e" stroke-width="3.0" stroke-linecap="round"/>
<circle cx="244.2" cy="324.3" r="1.5" fill="#b84848"/>
<line x1="268.5" y1="343.2" x2="266.4" y2="347.9" stroke="#cdcdcd" stroke-width="3.0" stroke-linecap="round"/>
<line x1="272.5" y1="332.1" x2="274.3" y2="325.7" stroke="#cdcdcd" stroke-width="3.0" stroke-linecap="round"/>
<line x1="270.7" y1="338.6" x2="268.5" y2="343.2" stroke="#d06e6e" stroke-width="3.0" stroke-linecap="round"/>
<line x1="270.7" y1="338.6" x2="272.5" y2="332.1" stroke="#d06e6e" stroke-width="3.0" stroke-linecap="round"/>
<circle cx="270.7" cy="338.6" r="1.5" fill="#b84848"/>
<line x1="279.2" y1="333.2" x2="277.8" y2="340.0" stroke="#cdcdcd" stroke-width="3.0" stroke-linecap="round"/>
<line x1="284.3" y1="325.0" x2="287.9" y2="323.6" stroke="#cdcdcd" stroke-width="3.0" stroke-linecap="round"/>
<line x1="280.7" y1="326.4" x2="279.2" y2="333.2" stroke="#d06e6e" stroke-width="3.0" stroke-linecap="round"/>
<line x1="280.7" y1="326.4" x2="284.3" y2="325.0" stroke="#d06e6e" stroke-width="3.0" stroke-linecap="round"/>
<circle cx="280.7" cy="326.4" r="1.5" fill="#b84848"/>
<line x1="238.1" y1="355.0" x2="235.6" y2="347.9" stroke="#cdcdcd" stroke-width="3.0" stroke-linecap="round"/>
<line x1="238.1" y1="365.8" x2="235.6" y2="369.4" stroke="#cdcdcd" stroke-width="3.0" stroke-linecap="round"/>
<line x1="240.6" y1="362.2" x2="238.1" y2="355.0" stroke="#d06e6e" stroke-width="3.0" stroke-linecap="round"/>
<line x1="240.6" y1="362.2" x2="238.1" y2="365.8" stroke="#d06e6e" stroke-width="3.0" stroke-linecap="round"/>
<circle cx="240.6" cy="362.2" r="1.5" fill="#b84848"/>
<line x1="218.4" y1="368.3" x2="215.6" y2="369.4" stroke="#cdcdcd" stroke-width="3.0" stroke-linecap="round"/>
<line x1="223.4" y1="373.6" x2="225.6" y2="380.1" stroke="#cdcdcd" stroke-width="3.0" stroke-linecap="round"/>
<line x1="221.3" y1="367.2" x2="218.4" y2="368.3" stroke="#d06e6e" stroke-width="3.0" stroke-linecap="round"/>
<line x1="221.3" y1="367.2" x2="223.4" y2="373.6" stroke="#d06e6e" stroke-width="3.0" stroke-linecap="round"/>
<circle cx="221.3" cy="367.2" r="1.5" fill="#b84848"/>
<line x1="216.3" y1="359.4" x2="214.9" y2="362.2" stroke="#cdcdcd" stroke-width="3.0" stroke-linecap="round"/>
<line x1="217.7" y1="356.5" x2="216.3" y2="359.4" stroke="#d06e6e" stroke-width="3.0" stroke-linecap="round"/>
<circle cx="217.7" cy="356.5" r="1.5" fill="#b84848"/>
<line x1="280.0" y1="370.8" x2="277.8" y2="374.4" stroke="#cdcdcd" stroke-width="3.0" stroke-linecap="round"/>
<line x1="285.7" y1="368.3" x2="289.3" y2="369.4" stroke="#cdcdcd" stroke-width="3.0" stroke-linecap="round"/>
<line x1="282.1" y1="367.2" x2="280.0" y2="370.8" stroke="#d06e6e" stroke-width="3.0" stroke-linecap="round"/>
<line x1="282.1" y1="367.2" x2="285.7" y2="368.3" stroke="#d06e6e" stroke-width="3.0" stroke-linecap="round"/>
<circle cx="282.1" cy="367.2" r="1.5" fill="#b84848"/>
<line x1="320.0" y1="332.9" x2="317.2" y2="339.3" stroke="#cdcdcd" stroke-width="3.0" stroke-linecap="round"/>
<line x1="322.9" y1="326.4" x2="320.0" y2="332.9" stroke="#d06e6e" stroke-width="3.0" stroke-linecap="round"/>
<circle cx="322.9" cy="326.4" r="1.5" fill="#b84848"/>
<line x1="336.1" y1="328.2" x2="341.5" y2="329.3" stroke="#cdcdcd" stroke-width="3.0" stroke-linecap="round"/>
<line x1="330.8" y1="327.2" x2="336.1" y2="328.2" stroke="#d06e6e" stroke-width="3.0" stroke-linecap="round"/>
<circle cx="330.8" cy="327.2" r="1.5" fill="#b84848"/>
<line x1="355.5" y1="328.9" x2="352.3" y2="330.7" stroke="#cdcdcd" stroke-width="3.0" stroke-linecap="round"/>
<line x1="358.7" y1="327.2" x2="355.5" y2="328.9" stroke="#d06e6e" stroke-width="3.0" stroke-linecap="round"/>
<circle cx="358.7" cy="327.2" r="1.5" fill="#b84848"/>
<line x1="322.2" y1="347.2" x2="320.1" y2="350.1" stroke="#cdcdcd" stroke-width="3.0" stroke-linecap="round"/>
<line x1="324.4" y1="349.7" x2="324.4" y2="355.1" stroke="#cdcdcd" stroke-width="3.0" stroke-linecap="round"/>
<line x1="324.4" y1="344.3" x2="322.2" y2="347.2" stroke="#d06e6e" stroke-width="3.0" stroke-linecap="round"/>
<line x1="324.4" y1="344.3" x2="324.4" y2="349.7" stroke="#d06e6e" stroke-width="3.0" stroke-linecap="round"/>
<circle cx="324.4" cy="344.3" r="1.5" fill="#b84848"/>
<line x1="335.8" y1="356.9" x2="330.8" y2="359.4" stroke="#cdcdcd" stroke-width="3.0" stroke-linecap="round"/>
<line x1="340.8" y1="354.3" x2="335.8" y2="356.9" stroke="#d06e6e" stroke-width="3.0" stroke-linecap="round"/>
<circle cx="340.8" cy="354.3" r="1.5" fill="#b84848"/>
<line x1="335.8" y1="368.3" x2="332.2" y2="362.9" stroke="#cdcdcd" stroke-width="3.0" stroke-linecap="round"/>
<line x1="339.4" y1="373.7" x2="335.8" y2="368.3" stroke="#d06e6e" stroke-width="3.0" stroke-linecap="round"/>
<circle cx="339.4" cy="373.7" r="1.5" fill="#b84848"/>
<line x1="346.2" y1="369.8" x2="343.7" y2="374.4" stroke="#cdcdcd" stroke-width="3.0" stroke-linecap="round"/>
<line x1="353.7" y1="369.1" x2="358.7" y2="373.0" stroke="#cdcdcd" stroke-width="3.0" stroke-linecap="round"/>
<line x1="348.7" y1="365.1" x2="346.2" y2="369.8" stroke="#d06e6e" stroke-width="3.0" stroke-linecap="round"/>
<line x1="348.7" y1="365.1" x2="353.7" y2="369.1" stroke="#d06e6e" stroke-width="3.0" stroke-linecap="round"/>
<circle cx="348.7" cy="365.1" r="1.5" fill="#b84848"/>
<line x1="357.6" y1="337.1" x2="355.8" y2="340.0" stroke="#cdcdcd" stroke-width="3.0" stroke-linecap="round"/>
<line x1="359.4" y1="334.3" x2="357.6" y2="337.1" stroke="#d06e6e" stroke-width="3.0" stroke-linecap="round"/>
<circle cx="359.4" cy="334.3" r="1.5" fill="#b84848"/>
<line x1="292.9" y1="325.8" x2="292.2" y2="328.6" stroke="#cdcdcd" stroke-width="3.0" stroke-linecap="round"/>
<line x1="293.6" y1="322.9" x2="292.9" y2="325.8" stroke="#d06e6e" stroke-width="3.0" stroke-linecap="round"/>
<circle cx="293.6" cy="322.9" r="1.5" fill="#b84848"/>
<line x1="297.1" y1="368.3" x2="295.0" y2="373.7" stroke="#cdcdcd" stroke-width="3.0" stroke-linecap="round"/>
<line x1="293.6" y1="365.9" x2="288.0" y2="369.0" stroke="#cdcdcd" stroke-width="3.0" stroke-linecap="round"/>
<line x1="299.3" y1="362.9" x2="297.1" y2="368.3" stroke="#d06e6e" stroke-width="3.0" stroke-linecap="round"/>
<line x1="299.3" y1="362.9" x2="293.6" y2="365.9" stroke="#d06e6e" stroke-width="3.0" stroke-linecap="round"/>
<circle cx="299.3" cy="362.9" r="1.5" fill="#b84848"/>
</g>
<circle cx="230.2" cy="413.4" r="10.8" fill="url(#gPt)"/><circle cx="228.6" cy="410.3" r="10.8" fill="url(#gPt)"/>
<circle cx="260.2" cy="411.6" r="10.8" fill="url(#gPt)"/><circle cx="263.6" cy="408.7" r="10.8" fill="url(#gPt)"/>
<circle cx="300.9" cy="412.8" r="10.8" fill="url(#gPt)"/><circle cx="297.8" cy="410.5" r="10.8" fill="url(#gPt)"/>
<circle cx="334.0" cy="411.5" r="10.8" fill="url(#gPt)"/><circle cx="331.4" cy="410.2" r="10.8" fill="url(#gPt)"/>
<circle cx="362.1" cy="413.4" r="10.8" fill="url(#gPt)"/><circle cx="365.2" cy="410.3" r="10.8" fill="url(#gPt)"/>
<circle cx="217.8" cy="446.8" r="10.8" fill="url(#gPt)"/><circle cx="216.8" cy="445.2" r="10.8" fill="url(#gPt)"/>
<circle cx="252.5" cy="444.5" r="10.8" fill="url(#gPt)"/><circle cx="250.6" cy="446.4" r="10.8" fill="url(#gPt)"/>
<circle cx="287.6" cy="444.0" r="10.8" fill="url(#gPt)"/><circle cx="285.0" cy="446.9" r="10.8" fill="url(#gPt)"/>
<circle cx="320.1" cy="449.5" r="10.8" fill="url(#gPt)"/><circle cx="322.1" cy="446.2" r="10.8" fill="url(#gPt)"/>
<circle cx="355.7" cy="445.5" r="10.8" fill="url(#gPt)"/><circle cx="352.8" cy="446.8" r="10.8" fill="url(#gPt)"/>
<line x1="232.8" y1="375.1" x2="240.6" y2="376.4" stroke="#d01010" stroke-width="4.6"/><line x1="240.6" y1="376.4" x2="248.3" y2="377.6" stroke="#6a6a6a" stroke-width="4.6"/>
<line x1="248.3" y1="377.6" x2="252.7" y2="368.7" stroke="#6a6a6a" stroke-width="4.6"/><line x1="252.7" y1="368.7" x2="257.0" y2="359.8" stroke="#d01010" stroke-width="4.6"/>
<line x1="257.0" y1="359.8" x2="265.4" y2="360.0" stroke="#d01010" stroke-width="4.6"/><line x1="265.4" y1="360.0" x2="273.8" y2="360.2" stroke="#d8d8d8" stroke-width="4.6"/>
<line x1="304.2" y1="361.8" x2="310.7" y2="363.9" stroke="#d8d8d8" stroke-width="4.6"/><line x1="310.7" y1="363.9" x2="317.2" y2="366.0" stroke="#d01010" stroke-width="4.6"/>
<line x1="317.2" y1="366.0" x2="317.6" y2="373.2" stroke="#d01010" stroke-width="4.6"/><line x1="317.6" y1="373.2" x2="318.0" y2="380.5" stroke="#d8d8d8" stroke-width="4.6"/>
<circle cx="232.8" cy="375.1" r="6.4" fill="url(#gO)"/>
<circle cx="248.3" cy="377.6" r="6.9" fill="url(#gC)"/>
<circle cx="257.0" cy="359.8" r="6.0" fill="url(#gO)"/>
<circle cx="273.8" cy="360.2" r="4.5" fill="url(#gH)"/>
<circle cx="286.6" cy="352.8" r="10.7" fill="#7ccf7c" fill-opacity="0.82"/>
<circle cx="286.7" cy="352.5" r="6.5" fill="url(#gBr)"/>
<circle cx="286.7" cy="353.3" r="4.3" fill="url(#gH)"/>
<circle cx="304.2" cy="361.8" r="4.4" fill="url(#gH)"/>
<circle cx="318.0" cy="380.5" r="4.5" fill="url(#gH)"/>
<circle cx="317.2" cy="366.0" r="6.5" fill="url(#gO)"/>
</g>
<rect x="214.4" y="321.5" width="146.9" height="139.3" fill="none" stroke="#222" stroke-width="1.1" stroke-dasharray="3.1,2.3"/>
<rect x="375.1" y="461.2" width="146.5" height="28.2" fill="#e2efd9"/>
<g clip-path="url(#cb2)">
<g filter="url(#soft)">
<line x1="406.7" y1="332.1" x2="407.1" y2="339.3" stroke="#cdcdcd" stroke-width="3.0" stroke-linecap="round"/>
<line x1="406.3" y1="325.0" x2="406.7" y2="332.1" stroke="#d06e6e" stroke-width="3.0" stroke-linecap="round"/>
<circle cx="406.3" cy="325.0" r="1.5" fill="#b84848"/>
<line x1="414.2" y1="332.1" x2="416.4" y2="338.6" stroke="#cdcdcd" stroke-width="3.0" stroke-linecap="round"/>
<line x1="418.9" y1="326.8" x2="425.7" y2="327.9" stroke="#cdcdcd" stroke-width="3.0" stroke-linecap="round"/>
<line x1="412.1" y1="325.7" x2="414.2" y2="332.1" stroke="#d06e6e" stroke-width="3.0" stroke-linecap="round"/>
<line x1="412.1" y1="325.7" x2="418.9" y2="326.8" stroke="#d06e6e" stroke-width="3.0" stroke-linecap="round"/>
<circle cx="412.1" cy="325.7" r="1.5" fill="#b84848"/>
<line x1="377.4" y1="326.5" x2="377.7" y2="328.6" stroke="#cdcdcd" stroke-width="3.0" stroke-linecap="round"/>
<line x1="377.0" y1="324.3" x2="377.4" y2="326.5" stroke="#d06e6e" stroke-width="3.0" stroke-linecap="round"/>
<circle cx="377.0" cy="324.3" r="1.5" fill="#b84848"/>
<line x1="379.1" y1="347.6" x2="377.0" y2="341.5" stroke="#cdcdcd" stroke-width="3.0" stroke-linecap="round"/>
<line x1="383.5" y1="355.4" x2="385.6" y2="357.2" stroke="#cdcdcd" stroke-width="3.0" stroke-linecap="round"/>
<line x1="381.3" y1="353.6" x2="379.1" y2="347.6" stroke="#d06e6e" stroke-width="3.0" stroke-linecap="round"/>
<line x1="381.3" y1="353.6" x2="383.5" y2="355.4" stroke="#d06e6e" stroke-width="3.0" stroke-linecap="round"/>
<circle cx="381.3" cy="353.6" r="1.5" fill="#b84848"/>
<line x1="394.9" y1="349.0" x2="399.2" y2="343.6" stroke="#cdcdcd" stroke-width="3.0" stroke-linecap="round"/>
<line x1="386.6" y1="358.2" x2="382.7" y2="362.2" stroke="#cdcdcd" stroke-width="3.0" stroke-linecap="round"/>
<line x1="390.6" y1="354.3" x2="394.9" y2="349.0" stroke="#d06e6e" stroke-width="3.0" stroke-linecap="round"/>
<line x1="390.6" y1="354.3" x2="386.6" y2="358.2" stroke="#d06e6e" stroke-width="3.0" stroke-linecap="round"/>
<circle cx="390.6" cy="354.3" r="1.5" fill="#b84848"/>
<line x1="396.0" y1="368.6" x2="391.3" y2="370.8" stroke="#cdcdcd" stroke-width="3.0" stroke-linecap="round"/>
<line x1="397.1" y1="364.7" x2="393.5" y2="362.9" stroke="#cdcdcd" stroke-width="3.0" stroke-linecap="round"/>
<line x1="400.6" y1="366.5" x2="396.0" y2="368.6" stroke="#d06e6e" stroke-width="3.0" stroke-linecap="round"/>
<line x1="400.6" y1="366.5" x2="397.1" y2="364.7" stroke="#d06e6e" stroke-width="3.0" stroke-linecap="round"/>
<circle cx="400.6" cy="366.5" r="1.5" fill="#b84848"/>
<line x1="418.1" y1="357.2" x2="414.2" y2="351.5" stroke="#cdcdcd" stroke-width="3.0" stroke-linecap="round"/>
<line x1="420.0" y1="365.8" x2="417.8" y2="368.7" stroke="#cdcdcd" stroke-width="3.0" stroke-linecap="round"/>
<line x1="422.1" y1="362.9" x2="418.1" y2="357.2" stroke="#d06e6e" stroke-width="3.0" stroke-linecap="round"/>
<line x1="422.1" y1="362.9" x2="420.0" y2="365.8" stroke="#d06e6e" stroke-width="3.0" stroke-linecap="round"/>
<circle cx="422.1" cy="362.9" r="1.5" fill="#b84848"/>
<line x1="445.4" y1="343.6" x2="444.3" y2="350.1" stroke="#cdcdcd" stroke-width="3.0" stroke-linecap="round"/>
<line x1="448.2" y1="335.1" x2="450.0" y2="333.0" stroke="#cdcdcd" stroke-width="3.0" stroke-linecap="round"/>
<line x1="446.4" y1="337.2" x2="445.4" y2="343.6" stroke="#d06e6e" stroke-width="3.0" stroke-linecap="round"/>
<line x1="446.4" y1="337.2" x2="448.2" y2="335.1" stroke="#d06e6e" stroke-width="3.0" stroke-linecap="round"/>
<circle cx="446.4" cy="337.2" r="1.5" fill="#b84848"/>
<line x1="492.5" y1="333.9" x2="488.2" y2="337.9" stroke="#cdcdcd" stroke-width="3.0" stroke-linecap="round"/>
<line x1="500.0" y1="332.9" x2="503.2" y2="335.7" stroke="#cdcdcd" stroke-width="3.0" stroke-linecap="round"/>
<line x1="496.8" y1="330.0" x2="492.5" y2="333.9" stroke="#d06e6e" stroke-width="3.0" stroke-linecap="round"/>
<line x1="496.8" y1="330.0" x2="500.0" y2="332.9" stroke="#d06e6e" stroke-width="3.0" stroke-linecap="round"/>
<circle cx="496.8" cy="330.0" r="1.5" fill="#b84848"/>
<line x1="507.9" y1="324.3" x2="513.3" y2="322.9" stroke="#cdcdcd" stroke-width="3.0" stroke-linecap="round"/>
<line x1="504.3" y1="326.8" x2="506.1" y2="327.9" stroke="#cdcdcd" stroke-width="3.0" stroke-linecap="round"/>
<line x1="502.5" y1="325.7" x2="507.9" y2="324.3" stroke="#d06e6e" stroke-width="3.0" stroke-linecap="round"/>
<line x1="502.5" y1="325.7" x2="504.3" y2="326.8" stroke="#d06e6e" stroke-width="3.0" stroke-linecap="round"/>
<circle cx="502.5" cy="325.7" r="1.5" fill="#b84848"/>
<line x1="513.2" y1="354.3" x2="509.7" y2="354.3" stroke="#cdcdcd" stroke-width="3.0" stroke-linecap="round"/>
<line x1="516.8" y1="354.3" x2="513.2" y2="354.3" stroke="#d06e6e" stroke-width="3.0" stroke-linecap="round"/>
<circle cx="516.8" cy="354.3" r="1.5" fill="#b84848"/>
<line x1="519.7" y1="369.8" x2="519.7" y2="373.7" stroke="#cdcdcd" stroke-width="3.0" stroke-linecap="round"/>
<line x1="519.7" y1="365.8" x2="519.7" y2="369.8" stroke="#d06e6e" stroke-width="3.0" stroke-linecap="round"/>
<circle cx="519.7" cy="365.8" r="1.5" fill="#b84848"/>
<line x1="487.1" y1="366.1" x2="483.2" y2="365.8" stroke="#cdcdcd" stroke-width="3.0" stroke-linecap="round"/>
<line x1="493.2" y1="371.9" x2="495.4" y2="377.2" stroke="#cdcdcd" stroke-width="3.0" stroke-linecap="round"/>
<line x1="491.1" y1="366.5" x2="487.1" y2="366.1" stroke="#d06e6e" stroke-width="3.0" stroke-linecap="round"/>
<line x1="491.1" y1="366.5" x2="493.2" y2="371.9" stroke="#d06e6e" stroke-width="3.0" stroke-linecap="round"/>
<circle cx="491.1" cy="366.5" r="1.5" fill="#b84848"/>
<line x1="464.2" y1="366.9" x2="457.4" y2="366.5" stroke="#cdcdcd" stroke-width="3.0" stroke-linecap="round"/>
<line x1="471.8" y1="372.2" x2="472.5" y2="377.2" stroke="#cdcdcd" stroke-width="3.0" stroke-linecap="round"/>
<line x1="471.0" y1="367.2" x2="464.2" y2="366.9" stroke="#d06e6e" stroke-width="3.0" stroke-linecap="round"/>
<line x1="471.0" y1="367.2" x2="471.8" y2="372.2" stroke="#d06e6e" stroke-width="3.0" stroke-linecap="round"/>
<circle cx="471.0" cy="367.2" r="1.5" fill="#b84848"/>
<line x1="451.8" y1="366.1" x2="448.9" y2="372.2" stroke="#cdcdcd" stroke-width="3.0" stroke-linecap="round"/>
<line x1="454.6" y1="360.1" x2="451.8" y2="366.1" stroke="#d06e6e" stroke-width="3.0" stroke-linecap="round"/>
<circle cx="454.6" cy="360.1" r="1.5" fill="#b84848"/>
<line x1="452.5" y1="330.7" x2="454.6" y2="325.7" stroke="#cdcdcd" stroke-width="3.0" stroke-linecap="round"/>
<line x1="450.3" y1="335.7" x2="452.5" y2="330.7" stroke="#d06e6e" stroke-width="3.0" stroke-linecap="round"/>
<circle cx="450.3" cy="335.7" r="1.5" fill="#b84848"/>
</g>
<circle cx="399.0" cy="409.2" r="10.8" fill="url(#gPt)"/><circle cx="401.6" cy="411.5" r="10.8" fill="url(#gPt)"/>
<circle cx="438.2" cy="411.9" r="10.8" fill="url(#gPt)"/><circle cx="436.6" cy="408.8" r="10.8" fill="url(#gPt)"/>
<circle cx="471.6" cy="412.7" r="10.8" fill="url(#gPt)"/><circle cx="475.0" cy="409.8" r="10.8" fill="url(#gPt)"/>
<circle cx="511.3" cy="412.8" r="10.8" fill="url(#gPt)"/><circle cx="508.2" cy="410.5" r="10.8" fill="url(#gPt)"/>
<circle cx="392.3" cy="448.0" r="10.8" fill="url(#gPt)"/><circle cx="389.7" cy="446.7" r="10.8" fill="url(#gPt)"/>
<circle cx="423.4" cy="448.4" r="10.8" fill="url(#gPt)"/><circle cx="426.5" cy="445.3" r="10.8" fill="url(#gPt)"/>
<circle cx="461.3" cy="448.7" r="10.8" fill="url(#gPt)"/><circle cx="460.3" cy="447.1" r="10.8" fill="url(#gPt)"/>
<circle cx="499.2" cy="445.0" r="10.8" fill="url(#gPt)"/><circle cx="497.2" cy="446.9" r="10.8" fill="url(#gPt)"/>
<line x1="406.6" y1="375.8" x2="415.4" y2="376.6" stroke="#d01010" stroke-width="4.6"/><line x1="415.4" y1="376.6" x2="424.2" y2="377.4" stroke="#6a6a6a" stroke-width="4.6"/>
<line x1="424.2" y1="377.4" x2="428.5" y2="368.7" stroke="#6a6a6a" stroke-width="4.6"/><line x1="428.5" y1="368.7" x2="432.9" y2="360.0" stroke="#d01010" stroke-width="4.6"/>
<line x1="432.9" y1="360.0" x2="440.7" y2="359.6" stroke="#d01010" stroke-width="4.6"/><line x1="440.7" y1="359.6" x2="448.5" y2="359.2" stroke="#d8d8d8" stroke-width="4.6"/>
<line x1="468.1" y1="353.4" x2="469.3" y2="354.9" stroke="#6b3f0c" stroke-width="4.6"/><line x1="469.3" y1="354.9" x2="470.5" y2="356.3" stroke="#d8d8d8" stroke-width="4.6"/>
<line x1="482.3" y1="356.4" x2="489.6" y2="354.3" stroke="#d8d8d8" stroke-width="4.6"/><line x1="489.6" y1="354.3" x2="496.8" y2="352.2" stroke="#d01010" stroke-width="4.6"/>
<line x1="496.8" y1="352.2" x2="498.6" y2="358.3" stroke="#d01010" stroke-width="4.6"/><line x1="498.6" y1="358.3" x2="500.4" y2="364.4" stroke="#d8d8d8" stroke-width="4.6"/>
<circle cx="406.6" cy="375.8" r="6.4" fill="url(#gO)"/>
<circle cx="424.2" cy="377.4" r="7.0" fill="url(#gC)"/>
<circle cx="432.9" cy="360.0" r="6.1" fill="url(#gO)"/>
<circle cx="448.5" cy="359.2" r="4.4" fill="url(#gH)"/>
<circle cx="467.1" cy="353.0" r="10.7" fill="#7ccf7c" fill-opacity="0.82"/>
<circle cx="468.1" cy="353.4" r="6.8" fill="url(#gBr)"/>
<circle cx="470.5" cy="356.3" r="4.6" fill="url(#gH)"/>
<circle cx="482.3" cy="356.4" r="4.3" fill="url(#gH)"/>
<circle cx="500.4" cy="364.4" r="4.4" fill="url(#gH)"/>
<circle cx="496.8" cy="352.2" r="6.5" fill="url(#gO)"/>
</g>
<rect x="374.8" y="321.5" width="147.1" height="139.3" fill="none" stroke="#222" stroke-width="1.1" stroke-dasharray="3.1,2.3"/>
<rect x="535.9" y="461.2" width="146.7" height="28.2" fill="#e2efd9"/>
<g clip-path="url(#cb3)">
<g filter="url(#soft)">
<line x1="564.1" y1="334.0" x2="566.6" y2="340.8" stroke="#cdcdcd" stroke-width="3.0" stroke-linecap="round"/>
<line x1="564.5" y1="325.0" x2="567.3" y2="322.9" stroke="#cdcdcd" stroke-width="3.0" stroke-linecap="round"/>
<line x1="561.6" y1="327.2" x2="564.1" y2="334.0" stroke="#d06e6e" stroke-width="3.0" stroke-linecap="round"/>
<line x1="561.6" y1="327.2" x2="564.5" y2="325.0" stroke="#d06e6e" stroke-width="3.0" stroke-linecap="round"/>
<circle cx="561.6" cy="327.2" r="1.5" fill="#b84848"/>
<line x1="582.0" y1="325.4" x2="586.7" y2="327.9" stroke="#cdcdcd" stroke-width="3.0" stroke-linecap="round"/>
<line x1="579.9" y1="328.2" x2="582.4" y2="333.6" stroke="#cdcdcd" stroke-width="3.0" stroke-linecap="round"/>
<line x1="577.4" y1="322.9" x2="582.0" y2="325.4" stroke="#d06e6e" stroke-width="3.0" stroke-linecap="round"/>
<line x1="577.4" y1="322.9" x2="579.9" y2="328.2" stroke="#d06e6e" stroke-width="3.0" stroke-linecap="round"/>
<circle cx="577.4" cy="322.9" r="1.5" fill="#b84848"/>
<line x1="603.9" y1="347.2" x2="601.7" y2="353.6" stroke="#cdcdcd" stroke-width="3.0" stroke-linecap="round"/>
<line x1="608.1" y1="337.6" x2="610.3" y2="334.3" stroke="#cdcdcd" stroke-width="3.0" stroke-linecap="round"/>
<line x1="606.0" y1="340.8" x2="603.9" y2="347.2" stroke="#d06e6e" stroke-width="3.0" stroke-linecap="round"/>
<line x1="606.0" y1="340.8" x2="608.1" y2="337.6" stroke="#d06e6e" stroke-width="3.0" stroke-linecap="round"/>
<circle cx="606.0" cy="340.8" r="1.5" fill="#b84848"/>
<line x1="550.1" y1="354.7" x2="547.3" y2="352.2" stroke="#cdcdcd" stroke-width="3.0" stroke-linecap="round"/>
<line x1="555.9" y1="352.2" x2="558.8" y2="347.2" stroke="#cdcdcd" stroke-width="3.0" stroke-linecap="round"/>
<line x1="553.0" y1="357.2" x2="550.1" y2="354.7" stroke="#d06e6e" stroke-width="3.0" stroke-linecap="round"/>
<line x1="553.0" y1="357.2" x2="555.9" y2="352.2" stroke="#d06e6e" stroke-width="3.0" stroke-linecap="round"/>
<circle cx="553.0" cy="357.2" r="1.5" fill="#b84848"/>
<line x1="540.1" y1="349.7" x2="539.4" y2="342.9" stroke="#cdcdcd" stroke-width="3.0" stroke-linecap="round"/>
<line x1="539.1" y1="360.4" x2="537.3" y2="364.4" stroke="#cdcdcd" stroke-width="3.0" stroke-linecap="round"/>
<line x1="540.9" y1="356.5" x2="540.1" y2="349.7" stroke="#d06e6e" stroke-width="3.0" stroke-linecap="round"/>
<line x1="540.9" y1="356.5" x2="539.1" y2="360.4" stroke="#d06e6e" stroke-width="3.0" stroke-linecap="round"/>
<circle cx="540.9" cy="356.5" r="1.5" fill="#b84848"/>
<line x1="548.4" y1="361.1" x2="550.9" y2="362.2" stroke="#cdcdcd" stroke-width="3.0" stroke-linecap="round"/>
<line x1="545.9" y1="360.1" x2="548.4" y2="361.1" stroke="#d06e6e" stroke-width="3.0" stroke-linecap="round"/>
<circle cx="545.9" cy="360.1" r="1.5" fill="#b84848"/>
<line x1="553.8" y1="367.2" x2="548.0" y2="367.9" stroke="#cdcdcd" stroke-width="3.0" stroke-linecap="round"/>
<line x1="559.5" y1="366.5" x2="553.8" y2="367.2" stroke="#d06e6e" stroke-width="3.0" stroke-linecap="round"/>
<circle cx="559.5" cy="366.5" r="1.5" fill="#b84848"/>
<line x1="579.9" y1="356.5" x2="578.8" y2="350.1" stroke="#cdcdcd" stroke-width="3.0" stroke-linecap="round"/>
<line x1="578.9" y1="367.2" x2="576.7" y2="371.5" stroke="#cdcdcd" stroke-width="3.0" stroke-linecap="round"/>
<line x1="581.0" y1="362.9" x2="579.9" y2="356.5" stroke="#d06e6e" stroke-width="3.0" stroke-linecap="round"/>
<line x1="581.0" y1="362.9" x2="578.9" y2="367.2" stroke="#d06e6e" stroke-width="3.0" stroke-linecap="round"/>
<circle cx="581.0" cy="362.9" r="1.5" fill="#b84848"/>
<line x1="655.6" y1="330.7" x2="649.9" y2="335.0" stroke="#cdcdcd" stroke-width="3.0" stroke-linecap="round"/>
<line x1="665.7" y1="331.4" x2="670.0" y2="336.5" stroke="#cdcdcd" stroke-width="3.0" stroke-linecap="round"/>
<line x1="661.4" y1="326.4" x2="655.6" y2="330.7" stroke="#d06e6e" stroke-width="3.0" stroke-linecap="round"/>
<line x1="661.4" y1="326.4" x2="665.7" y2="331.4" stroke="#d06e6e" stroke-width="3.0" stroke-linecap="round"/>
<circle cx="661.4" cy="326.4" r="1.5" fill="#b84848"/>
<line x1="612.8" y1="331.8" x2="609.9" y2="337.2" stroke="#cdcdcd" stroke-width="3.0" stroke-linecap="round"/>
<line x1="615.6" y1="326.4" x2="612.8" y2="331.8" stroke="#d06e6e" stroke-width="3.0" stroke-linecap="round"/>
<circle cx="615.6" cy="326.4" r="1.5" fill="#b84848"/>
<line x1="671.0" y1="351.1" x2="667.1" y2="350.8" stroke="#cdcdcd" stroke-width="3.0" stroke-linecap="round"/>
<line x1="675.0" y1="351.5" x2="671.0" y2="351.1" stroke="#d06e6e" stroke-width="3.0" stroke-linecap="round"/>
<circle cx="675.0" cy="351.5" r="1.5" fill="#b84848"/>
<line x1="677.1" y1="358.6" x2="672.8" y2="355.8" stroke="#cdcdcd" stroke-width="3.0" stroke-linecap="round"/>
<line x1="681.4" y1="361.5" x2="677.1" y2="358.6" stroke="#d06e6e" stroke-width="3.0" stroke-linecap="round"/>
<circle cx="681.4" cy="361.5" r="1.5" fill="#b84848"/>
<line x1="632.8" y1="370.8" x2="632.0" y2="377.2" stroke="#cdcdcd" stroke-width="3.0" stroke-linecap="round"/>
<line x1="640.3" y1="363.6" x2="647.1" y2="362.9" stroke="#cdcdcd" stroke-width="3.0" stroke-linecap="round"/>
<line x1="633.5" y1="364.4" x2="632.8" y2="370.8" stroke="#d06e6e" stroke-width="3.0" stroke-linecap="round"/>
<line x1="633.5" y1="364.4" x2="640.3" y2="363.6" stroke="#d06e6e" stroke-width="3.0" stroke-linecap="round"/>
<circle cx="633.5" cy="364.4" r="1.5" fill="#b84848"/>
<line x1="543.5" y1="324.3" x2="541.0" y2="325.0" stroke="#cdcdcd" stroke-width="3.0" stroke-linecap="round"/>
<line x1="545.9" y1="323.6" x2="543.5" y2="324.3" stroke="#d06e6e" stroke-width="3.0" stroke-linecap="round"/>
<circle cx="545.9" cy="323.6" r="1.5" fill="#b84848"/>
<line x1="659.0" y1="325.9" x2="655.2" y2="323.2" stroke="#cdcdcd" stroke-width="3.0" stroke-linecap="round"/>
<line x1="668.0" y1="326.3" x2="673.2" y2="324.0" stroke="#cdcdcd" stroke-width="3.0" stroke-linecap="round"/>
<line x1="662.8" y1="328.6" x2="659.0" y2="325.9" stroke="#d06e6e" stroke-width="3.0" stroke-linecap="round"/>
<line x1="662.8" y1="328.6" x2="668.0" y2="326.3" stroke="#d06e6e" stroke-width="3.0" stroke-linecap="round"/>
<circle cx="662.8" cy="328.6" r="1.5" fill="#b84848"/>
<line x1="625.1" y1="327.0" x2="626.0" y2="329.0" stroke="#cdcdcd" stroke-width="3.0" stroke-linecap="round"/>
<line x1="624.2" y1="325.0" x2="625.1" y2="327.0" stroke="#d06e6e" stroke-width="3.0" stroke-linecap="round"/>
<circle cx="624.2" cy="325.0" r="1.5" fill="#b84848"/>
</g>
<circle cx="562.9" cy="408.8" r="10.8" fill="url(#gPt)"/><circle cx="560.3" cy="411.7" r="10.8" fill="url(#gPt)"/>
<circle cx="595.4" cy="412.0" r="10.8" fill="url(#gPt)"/><circle cx="597.4" cy="408.8" r="10.8" fill="url(#gPt)"/>
<circle cx="635.1" cy="409.5" r="10.8" fill="url(#gPt)"/><circle cx="632.2" cy="410.8" r="10.8" fill="url(#gPt)"/>
<circle cx="666.9" cy="409.2" r="10.8" fill="url(#gPt)"/><circle cx="669.5" cy="411.5" r="10.8" fill="url(#gPt)"/>
<circle cx="550.9" cy="448.9" r="10.8" fill="url(#gPt)"/><circle cx="549.3" cy="445.8" r="10.8" fill="url(#gPt)"/>
<circle cx="581.9" cy="448.7" r="10.8" fill="url(#gPt)"/><circle cx="585.3" cy="445.8" r="10.8" fill="url(#gPt)"/>
<circle cx="623.6" cy="447.8" r="10.8" fill="url(#gPt)"/><circle cx="620.5" cy="445.5" r="10.8" fill="url(#gPt)"/>
<circle cx="658.5" cy="447.5" r="10.8" fill="url(#gPt)"/><circle cx="655.9" cy="446.2" r="10.8" fill="url(#gPt)"/>
<circle cx="683.1" cy="448.9" r="10.8" fill="url(#gPt)"/><circle cx="686.2" cy="445.8" r="10.8" fill="url(#gPt)"/>
<line x1="565.9" y1="377.3" x2="574.5" y2="377.9" stroke="#d01010" stroke-width="4.6"/><line x1="574.5" y1="377.9" x2="583.0" y2="378.5" stroke="#6a6a6a" stroke-width="4.6"/>
<line x1="583.0" y1="378.5" x2="587.7" y2="368.9" stroke="#6a6a6a" stroke-width="4.6"/><line x1="587.7" y1="368.9" x2="592.4" y2="359.4" stroke="#d01010" stroke-width="4.6"/>
<line x1="592.4" y1="359.4" x2="600.3" y2="359.4" stroke="#d01010" stroke-width="4.6"/><line x1="600.3" y1="359.4" x2="608.2" y2="359.3" stroke="#d8d8d8" stroke-width="4.6"/>
<line x1="625.8" y1="354.4" x2="625.1" y2="357.0" stroke="#d01010" stroke-width="4.6"/><line x1="625.1" y1="357.0" x2="624.4" y2="359.6" stroke="#d8d8d8" stroke-width="4.6"/>
<line x1="625.8" y1="354.4" x2="632.5" y2="353.6" stroke="#d01010" stroke-width="4.6"/><line x1="632.5" y1="353.6" x2="639.2" y2="352.8" stroke="#d8d8d8" stroke-width="4.6"/>
<line x1="657.8" y1="353.5" x2="658.5" y2="361.0" stroke="#6b3f0c" stroke-width="4.6"/><line x1="658.5" y1="361.0" x2="659.2" y2="368.5" stroke="#d8d8d8" stroke-width="4.6"/>
<circle cx="565.9" cy="377.3" r="6.5" fill="url(#gO)"/>
<circle cx="583.0" cy="378.5" r="7.0" fill="url(#gC)"/>
<circle cx="592.4" cy="359.4" r="6.1" fill="url(#gO)"/>
<circle cx="608.2" cy="359.3" r="4.4" fill="url(#gH)"/>
<circle cx="625.8" cy="354.4" r="6.1" fill="url(#gO)"/>
<circle cx="624.4" cy="359.6" r="4.4" fill="url(#gH)"/>
<circle cx="639.2" cy="352.8" r="4.4" fill="url(#gH)"/>
<circle cx="657.8" cy="353.5" r="10.7" fill="#7ccf7c" fill-opacity="0.82"/>
<circle cx="657.8" cy="353.5" r="6.2" fill="url(#gBr)"/>
<circle cx="659.2" cy="368.5" r="4.4" fill="url(#gH)"/>
</g>
<rect x="535.6" y="321.5" width="147.3" height="139.3" fill="none" stroke="#222" stroke-width="1.1" stroke-dasharray="3.1,2.3"/>
<text x="11.6" y="316.4" font-size="18" textLength="24" lengthAdjust="spacingAndGlyphs">(b)</text>
<text x="90.0" y="310.1" font-size="15.6" textLength="76.6" lengthAdjust="spacingAndGlyphs">Initial state</text>
<text x="235.3" y="310.2" font-size="15.7">CO<tspan font-size="11" dy="3">2</tspan><tspan dy="-3"> protonation</tspan></text>
<text x="370.9" y="309.9" font-size="15.6" textLength="159.3" lengthAdjust="spacingAndGlyphs">Dissociation of ion pair</text>
<text x="567.8" y="310.2" font-size="15.8">OH<tspan font-size="10" dy="-6">-</tspan><tspan dy="6"> diffusion</tspan></text>
<text x="261.9" y="388.4" font-size="15" font-weight="bold" lengthAdjust="spacingAndGlyphs">1</text>
<text x="270.3" y="383.4" font-size="10.5" font-weight="bold" lengthAdjust="spacingAndGlyphs" textLength="8.6">st</text>
<text x="283.0" y="388.4" font-size="15" font-weight="bold" lengthAdjust="spacingAndGlyphs" textLength="20.2">PT</text>
<text x="436.6" y="390.8" font-size="15.5" font-weight="bold" lengthAdjust="spacingAndGlyphs">2</text>
<text x="445.0" y="385.6" font-size="10.5" font-weight="bold" lengthAdjust="spacingAndGlyphs" textLength="12.8">nd</text>
<text x="463.6" y="390.8" font-size="15.5" font-weight="bold" lengthAdjust="spacingAndGlyphs" textLength="19.2">PT</text>
<text x="458.3" y="336.0" font-size="14.4" font-weight="bold" lengthAdjust="spacingAndGlyphs" textLength="22.8">OH</text>
<text x="481.2" y="331.6" font-size="10" font-weight="bold" lengthAdjust="spacingAndGlyphs" textLength="4.2">-</text>
<text x="647.9" y="384.0" font-size="14.4" font-weight="bold" lengthAdjust="spacingAndGlyphs" textLength="22.8">OH</text>
<text x="671.2" y="379.4" font-size="10" font-weight="bold" lengthAdjust="spacingAndGlyphs" textLength="4.2">-</text>
<path d="M259.6,366.2 L267.2,367.6 L265.8,370.3 C268.0,372.5 272.6,372.9 275.3,370.7 C276.9,369.3 277.5,366.8 277.2,364.2 L278.5,363.8 C279.9,368.4 277.9,374.1 272.7,375.5 C268.8,376.5 264.8,375.6 262.3,373.8 L259.3,374.6 Z" fill="#000"/>
<path d="M468.3,339.0 L469.2,340.2 C472.2,339.0 475.0,339.0 477.6,340.0 C481.2,341.3 484.2,344.6 485.0,350.9 L484.8,355.0 L483.3,355.0 C483.4,350.1 482.0,346.2 478.4,344.9 C476.1,344.0 474.6,344.7 473.1,345.8 L474.0,348.3 L467.4,346.5 Z" fill="#000"/>
<text x="86.2" y="477.5" font-size="15.5"><tspan font-style="italic">d</tspan><tspan font-size="10.2" dy="4">ions</tspan><tspan dy="-4"> = 0 Å</tspan></text>
<text x="236.0" y="477.5" font-size="15.5"><tspan font-style="italic">d</tspan><tspan font-size="10.2" dy="4">ions</tspan><tspan dy="-4"> = 2.32 Å</tspan></text>
<text x="401.0" y="477.5" font-size="15.5"><tspan font-style="italic">d</tspan><tspan font-size="10.2" dy="4">ions</tspan><tspan dy="-4"> = 2.55 Å</tspan></text>
<text x="556.0" y="477.5" font-size="15.5"><tspan font-style="italic">d</tspan><tspan font-size="10.2" dy="4">ions</tspan><tspan dy="-4"> = 4.64 Å</tspan></text>
</svg>
</body></html>
